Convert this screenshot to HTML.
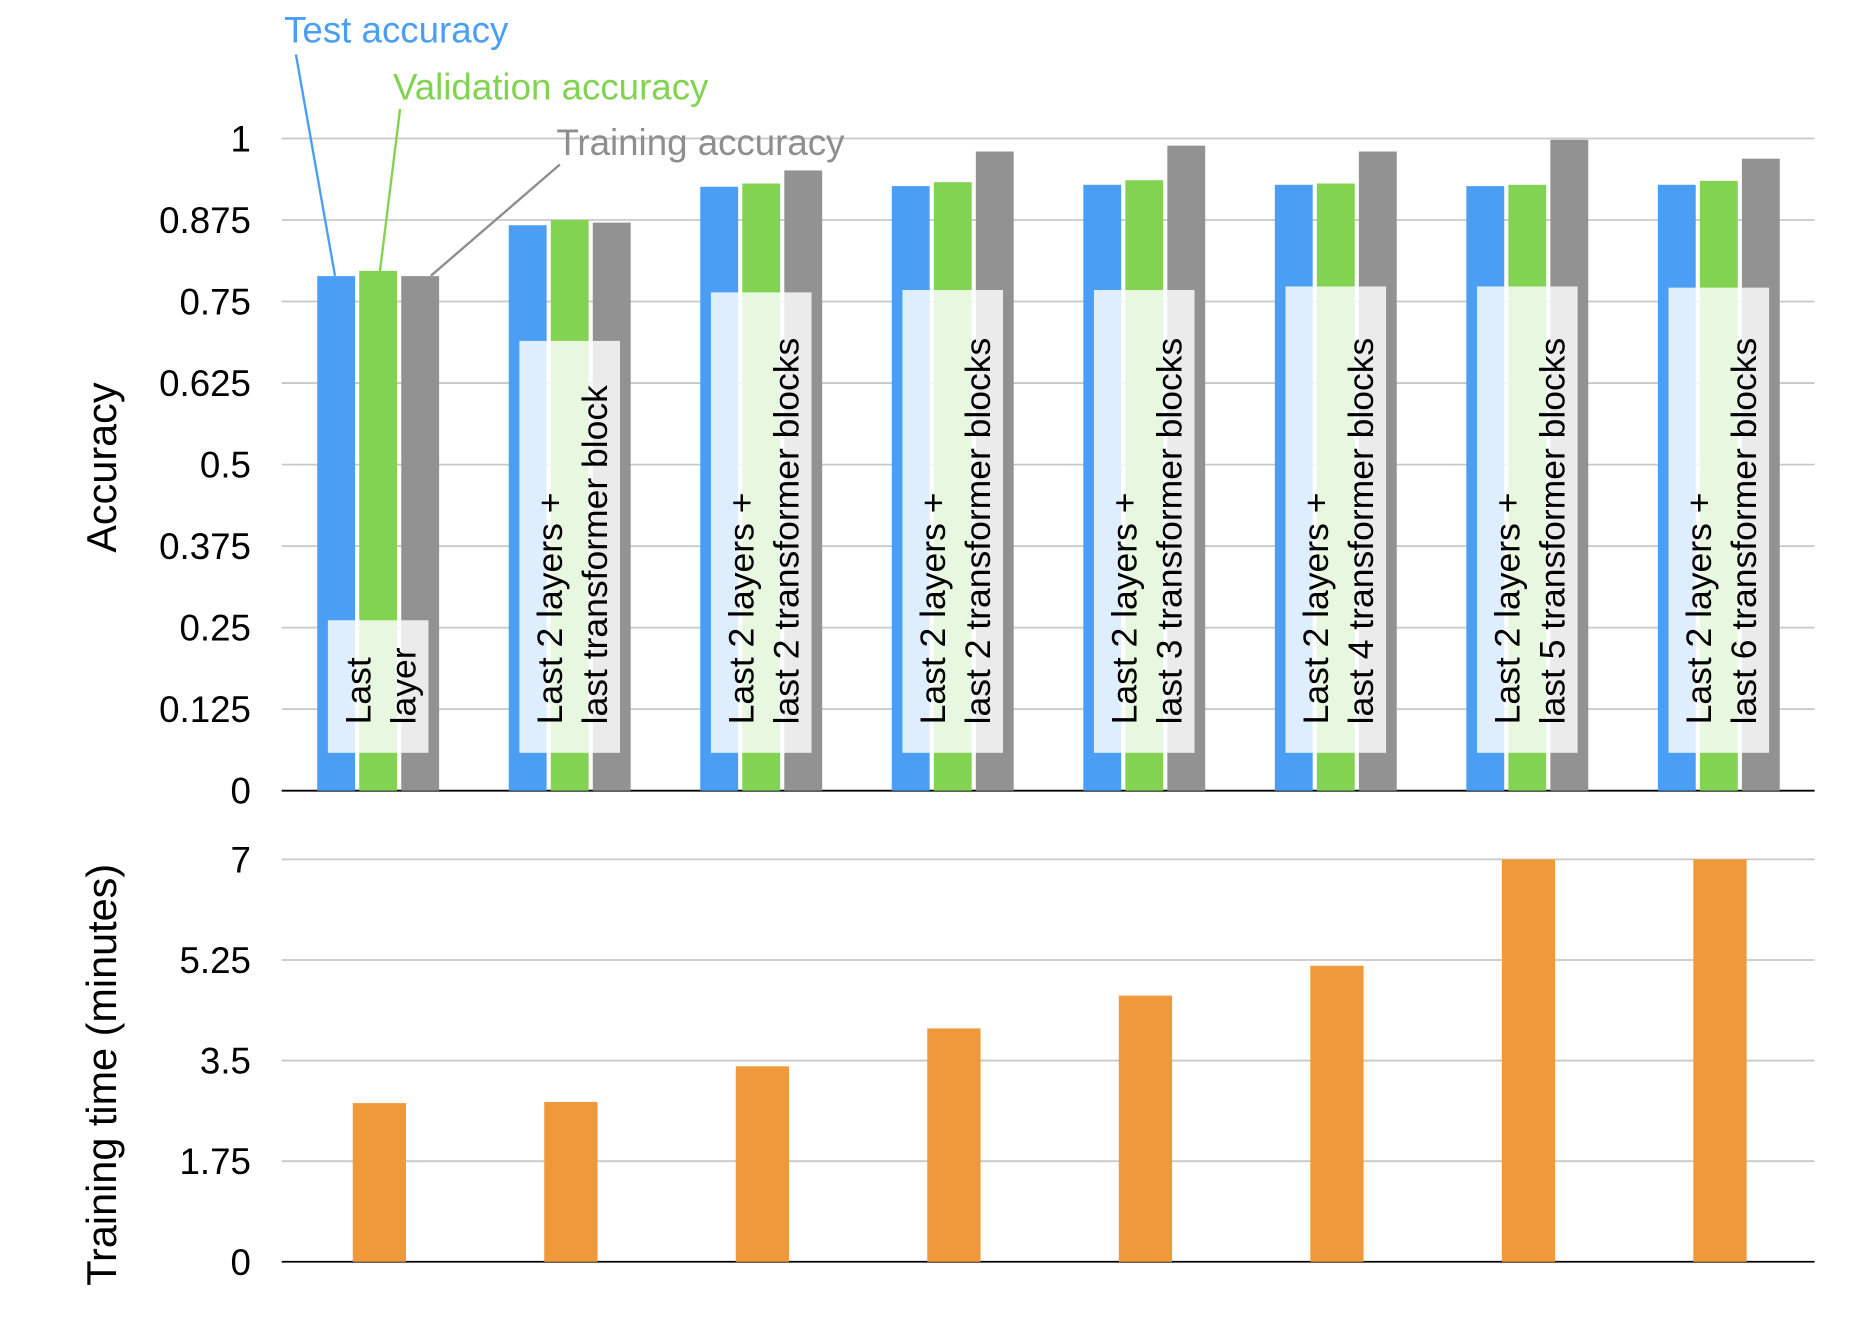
<!DOCTYPE html>
<html><head><meta charset="utf-8"><style>
html,body{margin:0;padding:0;background:#fff}
svg{display:block;font-family:"Liberation Sans",Arial,sans-serif}
</style></head><body>
<svg id="chart" width="1856" height="1334" viewBox="0 0 1568 1127" preserveAspectRatio="none" xmlns="http://www.w3.org/2000/svg">
<g id="grid"></g><g id="bars"></g><g id="labels"></g><g id="legend"></g>
</svg>
<script>
const categories=[["Last","layer"],["Last 2 layers +","last transformer block"],["Last 2 layers +","last 2 transformer blocks"],["Last 2 layers +","last 2 transformer blocks"],["Last 2 layers +","last 3 transformer blocks"],["Last 2 layers +","last 4 transformer blocks"],["Last 2 layers +","last 5 transformer blocks"],["Last 2 layers +","last 6 transformer blocks"]];
const testAcc=[0.789,0.867,0.926,0.927,0.929,0.929,0.927,0.929];
const valAcc=[0.797,0.875,0.931,0.933,0.936,0.931,0.929,0.935];
const trainAcc=[0.789,0.871,0.951,0.980,0.989,0.980,0.998,0.969];
const trainTime=[2.76,2.78,3.40,4.06,4.63,5.15,7,7];
const accTicks=["0","0.125","0.25","0.375","0.5","0.625","0.75","0.875","1"];
const timeTicks=["0","1.75","3.5","5.25","7"];
const boxTops=[524,288,247,245,245,242,242,243];

const NS="http://www.w3.org/2000/svg";
function mk(p,t,a){const e=document.createElementNS(NS,t);for(const k in a)e.setAttribute(k,a[k]);p.appendChild(e);return e;}
const X0=238,X1=1533;
const yAcc=v=>668-v*551;
const yTime=v=>1066-v/7*340;
const gx=i=>268+i*161.8;
const grid=document.getElementById('grid'),bars=document.getElementById('bars'),labels=document.getElementById('labels'),legend=document.getElementById('legend');

accTicks.forEach(t=>{const v=parseFloat(t),y=yAcc(v);
 if(v>0){const l=mk(grid,'line',{x1:X0,x2:X1,y1:y,y2:y,stroke:'#c8c8c8','stroke-width':1.5});
 
 }
 const tx=mk(grid,'text',{x:212,y:y+11,'text-anchor':'end','font-size':31,fill:'#000'});tx.textContent=t;
 
 
});
timeTicks.forEach(t=>{const v=parseFloat(t),y=yTime(v);
 if(v>0){const l=mk(grid,'line',{x1:X0,x2:X1,y1:y,y2:y,stroke:'#c8c8c8','stroke-width':1.5});
 
 }
 const tx=mk(grid,'text',{x:212,y:y+11,'text-anchor':'end','font-size':31,fill:'#000'});tx.textContent=t;
 
 
});

const series=[[testAcc,'#4a9ff5','test'],[valAcc,'#82d352','validation'],[trainAcc,'#929292','training']];
categories.forEach((c,i)=>{
 series.forEach((s,j)=>{const y=yAcc(s[0][i]);
  const r=mk(bars,'rect',{x:gx(i)+j*35.5,y:y,width:32,height:668-y,fill:s[1]});
  
  
 });
 const yt=yTime(trainTime[i]);
 const o=mk(bars,'rect',{x:gx(i)+30,y:yt,width:45,height:1066-yt,fill:'#f0993a'});
 
 
 const bx=gx(i)+9;
 const b=mk(labels,'rect',{x:bx,y:boxTops[i],width:85,height:636-boxTops[i],fill:'#fff','fill-opacity':0.82});
 
 
 c.forEach((line,k)=>{const lx=bx+36+k*38;
  const t=mk(labels,'text',{x:0,y:0,'font-size':30,fill:'#000',transform:`translate(${lx},612) rotate(-90)`});t.textContent=line;
  
  
 });
});
[668,1066].forEach(y=>{const l=mk(grid,'line',{x1:X0,x2:X1,y1:y,y2:y,stroke:'#000','stroke-width':1.5});
 
 });

const t1=mk(grid,'text',{x:0,y:0,'font-size':35,'text-anchor':'middle',transform:'translate(98,395) rotate(-90)'});t1.textContent='Accuracy';


const t2=mk(grid,'text',{x:0,y:0,'font-size':35,'text-anchor':'middle',transform:'translate(98,908) rotate(-90)'});t2.textContent='Training time (minutes)';



const leg=[['Test accuracy','#4a9ff5',240,36,250,46,283,233],['Validation accuracy','#82d352',332,84,338,92,321,229],['Training accuracy','#8e8e8e',470,131,473,139,364,233]];
leg.forEach(L=>{
 const t=mk(legend,'text',{x:L[2],y:L[3],'font-size':31,fill:L[1]});t.textContent=L[0];
 
 
 const l=mk(legend,'line',{x1:L[4],y1:L[5],x2:L[6],y2:L[7],stroke:L[1],'stroke-width':2});
 
 
});
</script>
</body></html>
